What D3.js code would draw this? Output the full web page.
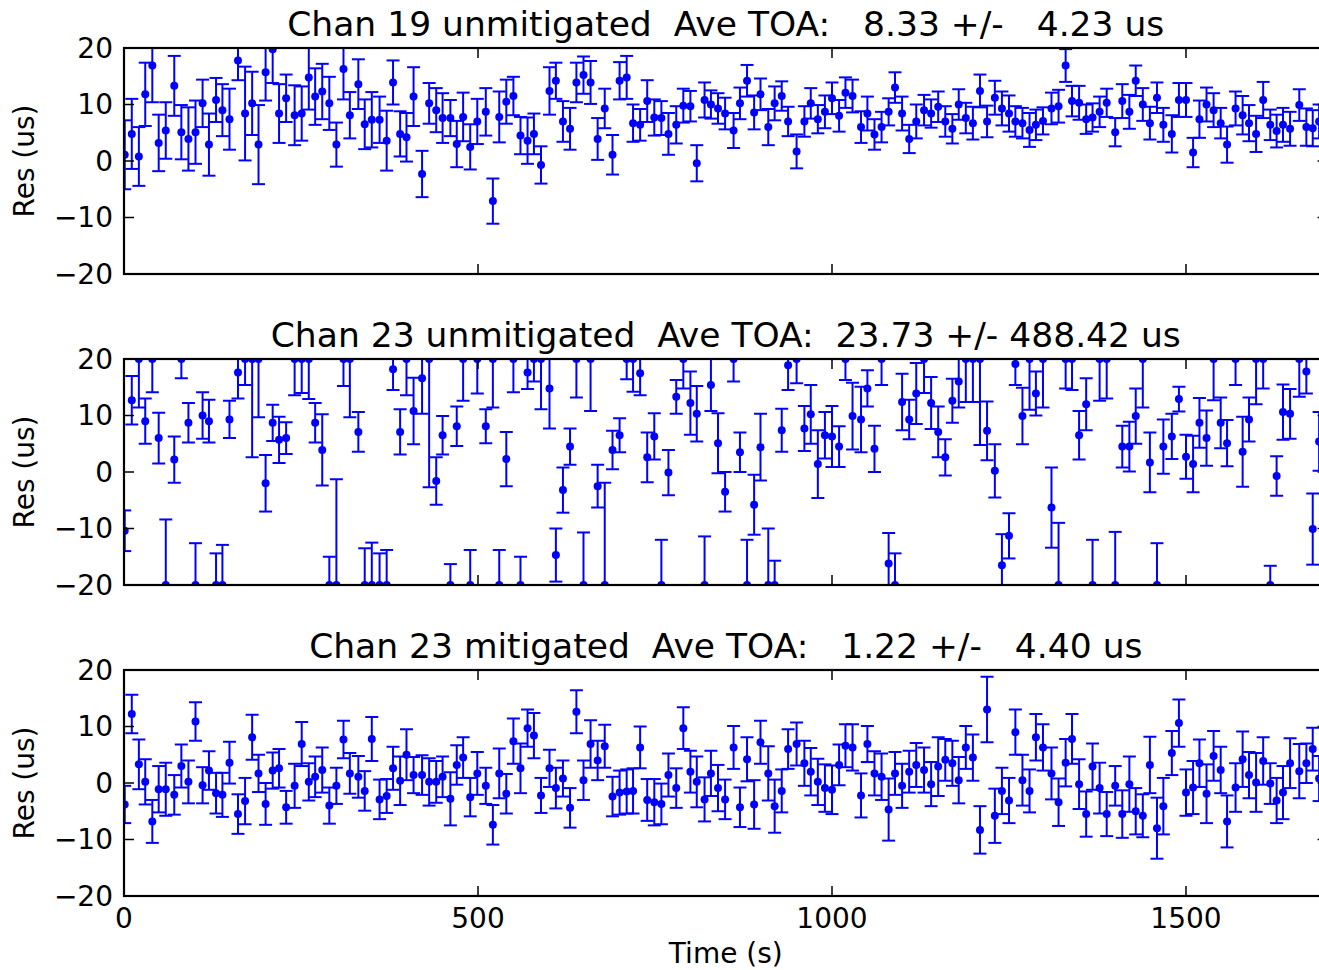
<!DOCTYPE html>
<html><head><meta charset="utf-8">
<script src="https://cdn.jsdelivr.net/npm/d3@7"></script>
<style>
body{margin:0;background:#fff;overflow:hidden}
text{font-family:"DejaVu Sans",sans-serif;fill:#000}
</style>
</head><body>
<svg id="c" width="1319" height="970"></svg>
<script>
// ---------------- data ----------------
const times = [1,11,21,30,40,49,59,71,81,91,101,111,120,130,139,149,161,171,181,190,200,210,219,229,241,251,261,270,280,290,300,310,319,331,340,350,361,371,380,390,399,
409,421,431,441,450,461,470,479,489,499,511,521,530,540,550,560,570,579,589,601,610,620,630,639,649,659,669,679,690,700,710,719,729,739,749,759,769,780,790,800,809,
820,829,839,849,861,870,880,890,899,910,919,929,938,950,961,970,980,990,1000,1010,1019,1029,1041,1050,1060,1070,1080,1089,1099,1109,1119,1130,1140,1150,1160,1170,1179,1189,1199,1209,1219,
1230,1240,1250,1259,1269,1279,1288,1298,1310,1320,1330,1339,1349,1359,1368,1378,1388,1400,1410,1420,1429,1439,1449,1459,1468,1480,1490,1500,1510,1519,1529,1539,1549,1558,1570,1580,1589,1599,1609,1619,1628,1637,1647,1660,1670,1679,1688];

const res19 = [1.1,4.8,0.8,11.8,16.9,3.2,5.4,13.3,5.1,3.9,5.1,10.2,2.9,10.8,9.0,7.4,17.8,8.4,10.2,2.9,15.7,19.8,8.4,11.1,8.1,8.4,14.8,11.4,12.3,10.2,2.9,16.3,8.1,13.6,6.5,7.3,7.3,3.6,13.9,4.8,4.2,
11.4,-2.3,10.2,9.0,7.6,7.6,3.0,7.8,2.5,7.0,8.7,-7.1,7.8,10.5,11.5,4.5,3.6,4.8,-0.7,12.4,14.2,7.0,5.7,13.9,15.2,13.9,3.9,9.3,1.1,14.2,14.8,6.7,6.4,10.6,7.7,7.6,4.8,6.4,9.8,9.7,-0.4,
10.8,10.0,9.3,8.4,5.4,10.2,14.2,8.6,11.8,6.0,10.2,11.5,7.0,1.7,7.0,10.2,7.4,8.7,11.1,8.0,12.1,11.5,6.0,8.4,4.7,6.0,8.7,13.0,8.4,3.9,7.0,9.0,8.4,9.6,7.0,5.7,10.0,7.6,6.7,12.4,7.0,
11.2,9.3,8.4,7.0,6.7,5.5,6.4,7.1,9.3,9.7,16.9,10.6,10.3,7.4,7.7,8.7,10.3,5.1,10.6,8.7,14.2,10.0,6.7,11.2,6.4,4.8,10.8,10.8,1.5,7.4,10.0,9.0,6.7,2.9,9.3,8.1,6.7,4.8,10.8,6.4,5.3,6.4,5.7,9.9,6.0,5.8,7.0];
const err19 = [6.1,6.2,5.2,5.6,6.5,5.0,5.0,5.3,4.8,5.6,5.6,4.2,5.5,3.9,4.6,5.4,3.5,8.3,5.6,7.0,5.0,6.0,5.2,4.2,5.3,4.8,5.7,5.0,4.9,4.7,3.9,5.4,4.1,4.4,4.4,4.9,4.1,5.3,3.9,4.0,4.3,
5.2,4.1,3.6,3.9,4.4,3.2,4.1,4.3,4.0,4.0,4.2,4.0,4.5,3.9,3.4,3.3,4.1,3.6,3.3,4.2,3.2,3.6,3.7,3.5,3.3,3.8,3.7,3.5,3.5,3.3,3.8,3.3,2.8,3.7,3.2,3.0,3.7,3.3,3.0,2.7,3.2,
3.1,2.5,2.7,2.8,3.1,2.8,2.8,3.0,2.8,3.2,3.0,2.6,2.6,3.0,2.7,2.7,2.5,2.9,2.8,2.8,2.7,2.9,2.8,3.0,2.7,2.7,2.4,2.7,3.0,2.5,3.0,2.7,2.5,2.7,2.7,2.6,2.7,2.7,2.9,2.9,2.8,
3.0,3.0,3.2,2.7,2.7,3.0,2.7,2.4,2.8,2.9,2.9,2.7,3.0,2.6,2.5,2.7,2.5,2.5,3.0,3.0,2.7,2.9,2.9,2.7,3.0,3.3,3.0,3.0,2.6,3.3,3.0,3.0,2.7,3.2,3.0,3.4,3.2,3.2,3.2,2.7,2.9,3.0,3.0,2.8,3.3,3.2,3.0];

const res23u = [-10.4,12.7,20,9.0,20,6.0,-20,2.2,20,8.7,-20,10.0,9.0,-20,-20,9.3,17.6,20,20,20,-2.0,8.7,5.7,6.0,20,20,20,8.7,3.9,-20,-20,20,20,7.1,-20,-20,-20,-20,18.2,7.1,20,
10.8,16.6,20,-1.6,6.5,-20,8.1,20,-20,20,8.1,20,-20,2.3,20,-20,17.6,20,20,14.8,-14.7,-3.2,4.5,20,-20,20,-2.5,-20,3.9,6.5,20,20,17.5,2.6,6.3,-20,-0.1,13.3,20,12.2,10.3,
-20,15.4,5.1,-3.5,20,3.5,-20,-5.8,4.4,-20,-20,7.4,18.9,20,7.7,10.2,1.4,6.5,6.3,4.5,20,9.9,9.3,14.8,4.1,20,-16.2,-20,12.4,9.3,13.9,20,12.2,7.1,2.6,12.6,16.0,20,20,20,7.3,
0.2,-16.5,-11.3,19.1,9.9,20,13.9,20,-6.3,-20,20,20,6.5,12.0,-20,20,20,-20,4.5,4.5,9.9,20,1.7,-20,4.5,6.3,12.9,2.7,1.4,8.7,6.0,20,8.7,5.1,20,3.6,9.3,20,20,-20,-0.7,10.6,10.3,20,17.8,-10.1,5.4];
const err23u = [3.6,4.3,8.6,4.0,5.9,4.5,11.6,4.1,3.4,3.5,7.4,4.1,3.8,5.6,7.1,3.3,4.6,4.6,17.4,10.3,5.0,3.2,4.1,2.8,6.4,6.0,7.1,3.5,6.3,5.0,18.7,4.8,10.3,3.5,6.5,7.5,5.6,6.2,3.7,4.0,6.4,
5.9,6.3,22.7,4.2,3.4,3.7,3.5,7.4,6.2,6.1,3.0,8.6,6.2,4.8,5.9,5.0,2.9,4.0,8.9,7.1,4.7,4.0,3.2,6.8,9.3,9.2,3.8,18.1,3.4,3.0,3.6,5.8,3.9,4.4,4.1,8.0,4.0,3.0,5.2,5.6,4.9,
8.6,4.6,5.3,3.5,4.0,3.5,8.0,5.3,5.9,10.0,4.3,3.8,4.4,4.3,4.0,5.2,6.0,4.1,5.4,3.6,3.7,5.9,5.8,3.2,4.1,4.6,5.4,5.6,5.0,3.5,5.4,6.0,4.6,4.5,3.2,3.9,4.6,7.6,7.6,15.2,5.2,
4.7,5.5,4.0,3.7,5.0,9.0,3.9,8.6,7.1,11.0,5.2,5.5,4.3,4.6,8.0,7.4,7.0,9.4,3.7,4.4,4.9,8.6,5.3,7.4,4.8,4.0,2.2,3.9,5.0,4.4,4.9,7.3,4.5,4.1,4.6,6.2,3.9,8.0,5.2,3.4,3.5,4.9,4.4,6.7,3.9,6.3,5.2];

const res23m = [-3.8,12.2,3.3,0.2,-6.8,-1.1,-1.1,-2.1,3.0,0.2,10.9,-0.4,2.2,-1.8,-2.1,3.6,-5.5,-3.2,8.1,1.7,-3.7,2.2,2.6,-4.3,-0.5,6.9,0.2,1.1,2.3,-4.0,-0.5,7.7,1.7,1.1,-1.4,7.8,-2.9,-2.3,2.6,0.4,5.0,
1.4,1.4,0.2,0.2,1.1,-2.8,3.2,4.5,-2.5,1.7,-0.5,-7.4,1.7,-1.9,7.4,2.6,9.7,8.4,-2.2,2.6,-0.9,0.8,-4.4,12.6,0.5,6.9,4.0,6.5,-2.4,-1.7,-1.5,-1.4,6.3,-3.0,-3.4,-3.7,1.4,-0.9,9.7,2.0,0.2,
-2.9,1.7,-0.9,-2.9,6.3,-4.3,4.2,-3.8,7.2,1.7,-4.1,-1.4,6.0,6.9,3.5,2.0,0.2,-0.9,-1.2,3.2,6.6,6.3,-2.2,6.9,1.7,1.1,-4.7,1.7,-0.5,2.0,3.2,2.3,-0.2,2.9,4.1,3.5,0.5,6.3,4.5,-8.3,13.0,
-5.8,-1.4,-3.1,9.0,0.5,-1.4,8.1,6.3,1.7,-3.4,3.6,7.8,-0.2,-5.5,2.9,-0.9,-5.5,-0.5,-5.5,-0.2,-5.0,-5.8,3.2,-8.0,-4.1,5.3,10.6,-1.7,-0.8,3.5,-1.9,4.8,2.3,-6.8,-0.8,4.2,1.4,0.1,3.9,-0.1,-3.1,-1.7,3.5,2.1,3.5,6.0,0.8];
const err23m = [3.3,3.4,4.4,4.0,3.8,4.1,4.7,3.5,3.8,3.8,3.4,3.2,3.4,3.6,3.9,3.7,3.5,4.1,4.0,3.3,3.7,3.2,3.4,2.9,3.9,3.9,3.3,3.6,4.0,3.2,3.2,3.3,3.6,3.7,3.5,3.9,3.5,3.0,3.8,4.3,4.5,
3.2,3.5,4.2,3.7,3.6,4.7,3.5,3.6,3.4,3.8,3.2,3.5,4.4,3.5,4.0,4.4,3.3,4.0,3.1,3.3,3.6,3.2,3.5,3.8,3.5,4.2,3.5,3.8,3.5,3.9,3.9,4.0,3.7,3.7,4.1,3.6,3.8,3.5,3.7,3.7,4.5,
3.9,4.0,4.1,3.5,3.8,3.5,3.9,4.3,3.8,4.8,4.7,3.8,3.5,3.8,4.0,4.2,4.1,4.2,4.3,3.6,3.8,4.1,3.9,3.2,3.9,4.1,5.5,3.8,3.9,3.7,3.9,4.0,3.9,5.2,3.7,4.0,4.1,3.8,4.1,4.2,5.8,
4.8,4.1,4.0,4.0,4.5,3.8,4.1,4.1,4.6,4.2,4.2,4.4,4.4,4.0,4.1,4.5,3.9,3.5,4.2,4.9,4.1,3.8,5.0,5.4,5.0,3.9,4.2,4.1,4.7,4.2,5.2,4.4,4.1,4.6,4.3,4.9,4.1,5.2,4.2,3.6,4.0,4.7,4.4,4.8,3.5,3.8,4.0];

const titles = [
  "Chan 19 unmitigated  Ave TOA:   8.33 +/-   4.23 us",
  "Chan 23 unmitigated  Ave TOA:  23.73 +/- 488.42 us",
  "Chan 23 mitigated  Ave TOA:   1.22 +/-   4.40 us"
];
const xTicks = [0, 500, 1000, 1500];
const yTicks = [-20, -10, 0, 10, 20];
const xLabel = "Time (s)";
const yLabel = "Res (us)";

// ---------------- layout ----------------
const series = [
  {res: res19, err: err19},
  {res: res23u, err: err23u},
  {res: res23m, err: err23m}
];
const left = 124, xMax = 1700, pxPerSec = 0.708;
const tops = [48, 359, 670], ph = 226;
const blue = "#0000ff";
const tickFs = 28, labelFs = 28, titleFs = 34.5;

const svg = d3.select("#c");
const x = d3.scaleLinear().domain([0, xMax]).range([left, left + xMax * pxPerSec]);
const right = x(xMax);
const fmt = d3.format("d");

series.forEach((s, i) => {
  const top = tops[i];
  const y = d3.scaleLinear().domain([-20, 20]).range([top + ph, top]);
  const g = svg.append("g");
  const cid = "clip" + i;
  svg.append("clipPath").attr("id", cid).append("rect")
    .attr("x", left).attr("y", top).attr("width", right - left).attr("height", ph);

  const data = times.map((t, k) => ({t, v: s.res[k], e: s.err[k]}));
  const pg = g.append("g").attr("clip-path", `url(#${cid})`);
  pg.selectAll("line.bar").data(data).enter().append("line")
    .attr("x1", d => x(d.t)).attr("x2", d => x(d.t))
    .attr("y1", d => y(d.v - d.e)).attr("y2", d => y(d.v + d.e))
    .attr("stroke", blue).attr("stroke-width", 2);
  ["lo", "hi"].forEach(side => {
    pg.selectAll("line.cap" + side).data(data).enter().append("line")
      .attr("x1", d => x(d.t) - 6.5).attr("x2", d => x(d.t) + 6.5)
      .attr("y1", d => y(side === "lo" ? d.v - d.e : d.v + d.e))
      .attr("y2", d => y(side === "lo" ? d.v - d.e : d.v + d.e))
      .attr("stroke", blue).attr("stroke-width", 2);
  });
  pg.selectAll("circle").data(data).enter().append("circle")
    .attr("cx", d => x(d.t)).attr("cy", d => y(d.v)).attr("r", 4)
    .attr("fill", blue);

  // frame
  g.append("rect").attr("x", left).attr("y", top).attr("width", right - left).attr("height", ph)
    .attr("fill", "none").attr("stroke", "#000").attr("stroke-width", 2.2);

  // inward ticks
  const tl = 10;
  xTicks.forEach(v => {
    g.append("line").attr("x1", x(v)).attr("x2", x(v)).attr("y1", top + ph).attr("y2", top + ph - tl)
      .attr("stroke", "#000").attr("stroke-width", 1.5);
    g.append("line").attr("x1", x(v)).attr("x2", x(v)).attr("y1", top).attr("y2", top + tl)
      .attr("stroke", "#000").attr("stroke-width", 1.5);
  });
  yTicks.forEach(v => {
    g.append("line").attr("x1", left).attr("x2", left + tl).attr("y1", y(v)).attr("y2", y(v))
      .attr("stroke", "#000").attr("stroke-width", 1.5);
    g.append("line").attr("x1", right).attr("x2", right - tl).attr("y1", y(v)).attr("y2", y(v))
      .attr("stroke", "#000").attr("stroke-width", 1.5);
    g.append("text").attr("x", left - 11).attr("y", y(v)).attr("dy", "0.35em")
      .attr("text-anchor", "end").attr("font-size", tickFs)
      .text(fmt(v));
  });

  // title
  g.append("text").attr("x", (left + right) / 2).attr("y", top - 12)
    .attr("text-anchor", "middle").attr("font-size", titleFs)
    .style("white-space", "pre").text(titles[i]);

  // y label
  g.append("text").attr("transform", `translate(${34},${top + ph / 2}) rotate(-90)`)
    .attr("text-anchor", "middle").attr("font-size", labelFs).text(yLabel);

  if (i === 2) {
    xTicks.forEach(v => {
      g.append("text").attr("x", x(v)).attr("y", top + ph + 32)
        .attr("text-anchor", "middle").attr("font-size", tickFs).text(fmt(v));
    });
    g.append("text").attr("x", (left + right) / 2).attr("y", top + ph + 67)
      .attr("text-anchor", "middle").attr("font-size", labelFs).text(xLabel);
  }
});
</script>
</body></html>
